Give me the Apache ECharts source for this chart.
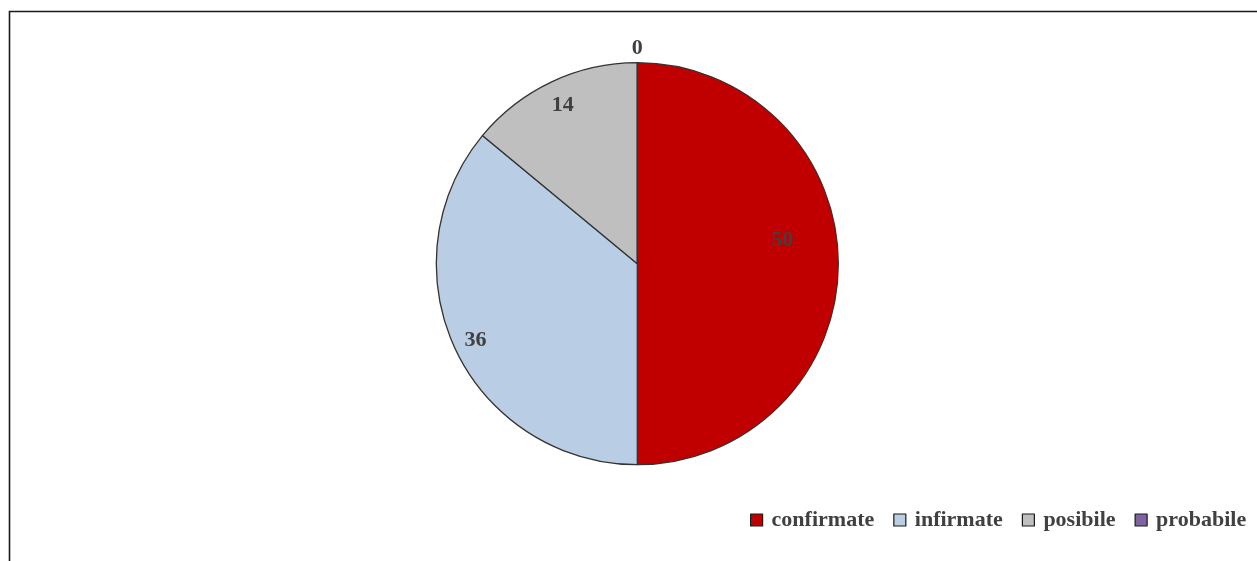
<!DOCTYPE html>
<html>
<head>
<meta charset="utf-8">
<script src="https://cdn.jsdelivr.net/npm/echarts@6/dist/echarts.min.js"></script>
<style>
  html, body { margin: 0; padding: 0; background: #fff; }
  #pie { width: 1257px; height: 561px; }
</style>
</head>
<body>
<div id="pie"></div>
<script>
// data
var categories = ["confirmate", "infirmate", "posibile", "probabile"];
var values = [50, 36, 14, 0];
var colors = ["#C00000", "#B9CDE5", "#BFBFBF", "#8064A2"];
// where each label sits: share of radius, and turn (degrees, minus = anticlockwise)
var labelRadius = [0.73, 0.89, 0.87, 1.07];
var labelTurn = [-9, 0, 0, 0];

var R = 201;
var centerX = 0.507, centerY = 0.47;

var chart = echarts.init(document.getElementById("pie"));

var option = {
  animation: false,
  graphic: [
    {
      type: "rect",
      shape: { x: 9.5, y: 11.5, width: 1400, height: 700 },
      style: { fill: "none", stroke: "#1a1a1a", lineWidth: 1.6 },
      silent: true,
      z: -1
    }
  ],
  legend: {
    data: categories,
    left: 745,
    top: 504,
    icon: "rect",
    itemWidth: 12,
    itemHeight: 12,
    itemGap: 19,
    itemStyle: { borderColor: "#1a1a1a", borderWidth: 1.2 },
    textStyle: {
      fontFamily: "Liberation Serif",
      fontWeight: "bold",
      fontSize: 22,
      color: "#404040",
      padding: [0, 0, 0, 4]
    }
  },
  series: [
    {
      type: "pie",
      radius: R,
      center: [centerX * 100 + "%", centerY * 100 + "%"],
      clockwise: true,
      startAngle: 90,
      data: categories.map(function (name, i) {
        return { name: name, value: values[i], itemStyle: { color: colors[i] } };
      }),
      itemStyle: { borderColor: "#333", borderWidth: 1.3 },
      label: {
        show: true,
        position: "inside",
        formatter: "{c}",
        fontFamily: "Liberation Serif",
        fontWeight: "bold",
        fontSize: 22,
        color: "#404040"
      },
      labelLine: { show: false },
      labelLayout: function (p) {
        var cx = chart.getWidth() * centerX, cy = chart.getHeight() * centerY;
        var lx = p.labelRect.x + p.labelRect.width / 2;
        var ly = p.labelRect.y + p.labelRect.height / 2;
        var a = Math.atan2(ly - cy, lx - cx) + labelTurn[p.dataIndex] * Math.PI / 180;
        var t = labelRadius[p.dataIndex] * R;
        return { x: cx + Math.cos(a) * t, y: cy + Math.sin(a) * t, align: "center", verticalAlign: "middle" };
      }
    }
  ]
};

chart.setOption(option);
</script>
</body>
</html>
